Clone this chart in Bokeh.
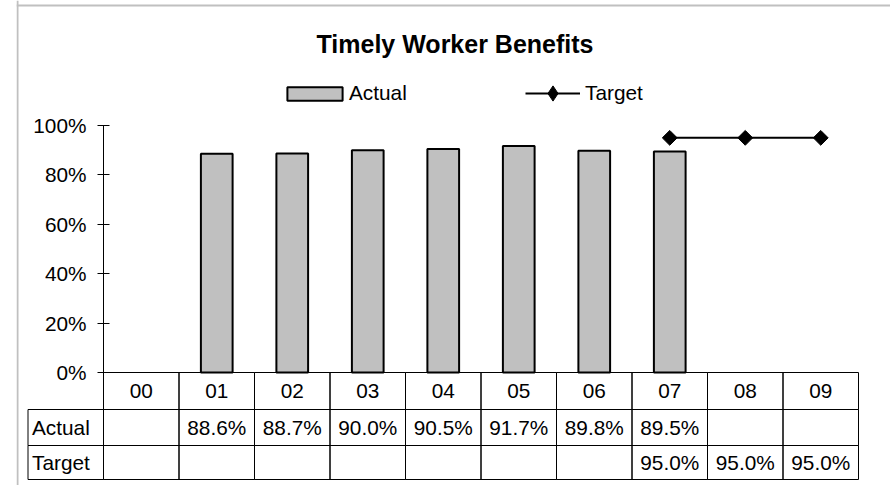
import math
import numpy as np
from bokeh.plotting import figure
from bokeh.models import (Range1d, LinearAxis, FixedTicker, NumeralTickFormatter,
                          Legend, LegendItem, Label, Span, ColumnDataSource)
from bokeh.embed import file_html
from bokeh.resources import INLINE
from bokeh.core.properties import value

# ---------------- data ----------------
categories = ["00", "01", "02", "03", "04", "05", "06", "07", "08", "09"]
actual = [None, 0.886, 0.887, 0.900, 0.905, 0.917, 0.898, 0.895, None, None]
target = [None, None, None, None, None, None, None, 0.95, 0.95, 0.95]
y_ticks = [0.0, 0.2, 0.4, 0.6, 0.8, 1.0]
row_names = ["Actual", "Target"]
title_text = "Timely Worker Benefits"

# ---------------- layout (canvas pixels) ----------------
W, H = 890, 485
FRAME_LEFT, FRAME_RIGHT = 16, W
FRAME_TOP, FRAME_BOTTOM = 0, H
AXIS_X, COL_W = 103, 75.5
Y0_PX, PX_PER_UNIT = 372, 247
HEADER_BOTTOM, ACTUAL_BOTTOM, TARGET_BOTTOM = 409, 445, 479
FONT = "Liberation Sans"
FS = "20.8px"


def xd(px):
    return (px - AXIS_X) / COL_W


def yd(py):
    return (Y0_PX - py) / PX_PER_UNIT


p = figure(width=W, height=H, title=None,
           x_range=Range1d(xd(FRAME_LEFT), xd(FRAME_RIGHT)),
           y_range=Range1d(yd(FRAME_BOTTOM), yd(FRAME_TOP)),
           x_axis_type=None, y_axis_type=None,
           toolbar_location=None, output_backend="svg",
           min_border_left=FRAME_LEFT, min_border_right=0,
           min_border_top=0, min_border_bottom=0,
           outline_line_color=None, background_fill_color="white",
           border_fill_color="white")

# chart-area border (left and top)
p.add_layout(Span(location=xd(17), dimension="height", line_color="#c0c0c0", line_width=2))
p.add_layout(Span(location=yd(5), dimension="width", line_color="#c0c0c0", line_width=2))

# y axis at x = 0 (left edge of category columns)
yaxis = LinearAxis(fixed_location=0, bounds=(0, 1),
                   ticker=FixedTicker(ticks=y_ticks),
                   formatter=NumeralTickFormatter(format="0%"),
                   major_tick_in=6, major_tick_out=6,
                   minor_tick_line_color=None,
                   major_label_standoff=11,
                   major_label_text_font=FONT,
                   major_label_text_font_size=FS,
                   major_label_text_color="black",
                   axis_line_color="black", major_tick_line_color="black")
p.add_layout(yaxis, "left")

cat_x = [i + 0.5 for i in range(len(categories))]

# bars
bar_src = ColumnDataSource(dict(
    x=[cx for cx, a in zip(cat_x, actual) if a is not None],
    top=[a for a in actual if a is not None]))
bars = p.vbar(x="x", top="top", bottom=0, width=0.42, source=bar_src,
              fill_color="#c0c0c0", line_color="black", line_width=2)

# target line
t_x = [cx for cx, t in zip(cat_x, target) if t is not None]
t_y = [t for t in target if t is not None]
tline = p.line(t_x, t_y, line_color="black", line_width=2)
p.scatter(t_x, t_y, marker="square", size=10.5, angle=math.pi / 4,
          fill_color="black", line_color="black")
# legend-only marker (not drawn in the plot: NaN position)
proxy = p.scatter(x=np.array([np.nan]), y=np.array([np.nan]), marker="diamond",
                  size=15, fill_color="black", line_color="black")

# ---------------- data table ----------------
n = len(categories)
y_top = 0.0
y_hb, y_ab, y_tb = yd(HEADER_BOTTOM), yd(ACTUAL_BOTTOM), yd(TARGET_BOTTOM)
# header row cells
p.quad(left=list(range(n)), right=list(range(1, n + 1)),
       top=[y_top] * n, bottom=[y_hb] * n,
       fill_color=None, line_color="black", line_width=1)
# data rows (incl. label column)
for top_, bot_ in [(y_hb, y_ab), (y_ab, y_tb)]:
    p.quad(left=list(range(-1, n)), right=list(range(0, n + 1)),
           top=[top_] * (n + 1), bottom=[bot_] * (n + 1),
           fill_color=None, line_color="black", line_width=1)

# header labels
p.text(x=cat_x, y=[(y_top + y_hb) / 2] * n, text=categories,
       text_font=value(FONT), text_font_size=FS, text_color="black",
       text_align="center", text_baseline="middle")
# row labels
row_y = [(y_hb + y_ab) / 2, (y_ab + y_tb) / 2]
p.text(x=[-1, -1], y=row_y, text=row_names, x_offset=4,
       text_font=value(FONT), text_font_size=FS, text_color="black",
       text_align="left", text_baseline="middle")
# values
for series, ry in [(actual, row_y[0]), (target, row_y[1])]:
    xs = [cx for cx, v in zip(cat_x, series) if v is not None]
    txt = [f"{v * 100:.1f}%" for v in series if v is not None]
    p.text(x=xs, y=[ry] * len(xs), text=txt,
           text_font=value(FONT), text_font_size=FS, text_color="black",
           text_align="center", text_baseline="middle")

# ---------------- title ----------------
p.add_layout(Label(x=xd(454.5), y=yd(43.5), text=title_text,
                   text_font=FONT, text_font_style="bold", text_font_size="25px",
                   text_color="black", text_align="center", text_baseline="middle"))

# ---------------- legends ----------------
leg1 = Legend(items=[LegendItem(label="Actual", renderers=[bars])],
              location=(280 - FRAME_LEFT, FRAME_BOTTOM - 105),
              orientation="horizontal", glyph_width=69, glyph_height=17,
              label_standoff=-2, padding=0, margin=0, spacing=0,
              border_line_color=None, background_fill_alpha=0,
              label_text_font=FONT, label_text_font_size=FS,
              label_text_color="black")
leg2 = Legend(items=[LegendItem(label="Target", renderers=[tline, proxy], index=0)],
              location=(525 - FRAME_LEFT, FRAME_BOTTOM - 112),
              orientation="horizontal", glyph_width=55, glyph_height=38,
              label_standoff=5, padding=0, margin=0, spacing=0,
              border_line_color=None, background_fill_alpha=0,
              label_text_font=FONT, label_text_font_size=FS,
              label_text_color="black")
p.add_layout(leg1)
p.add_layout(leg2)

open("out.html", "w").write(file_html(p, INLINE, title=title_text))
